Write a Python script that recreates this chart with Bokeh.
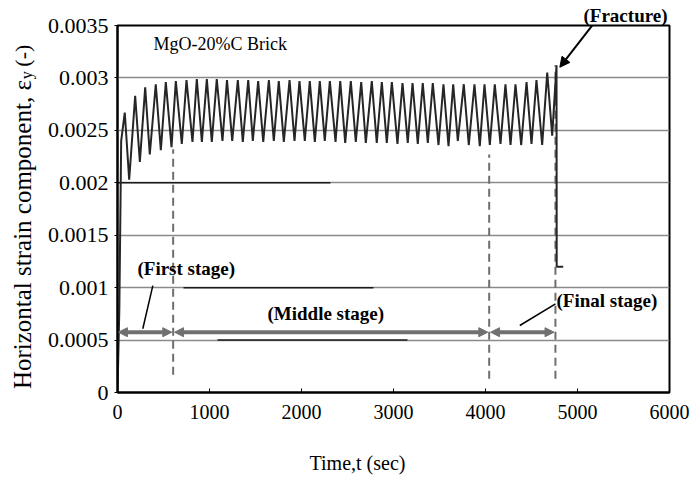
from math import pi
from bokeh.plotting import figure
from bokeh.layouts import row, column
from bokeh.models import Range1d, FixedTicker, Label, Arrow, NormalHead, Title
from bokeh.embed import file_html
from bokeh.resources import INLINE

# ---- data ----
rise_t = [0, 20, 40]
rise_v = [0.0, 0.0008, 0.0024]

peak_t = [79, 192, 301, 416, 525, 634, 750, 862, 971, 1079,
          1190, 1308, 1421, 1529, 1645, 1753, 1870, 1978, 2090, 2199, 2308,
          2421, 2536, 2649, 2764, 2873, 2982, 3098, 3207, 3318, 3427, 3543,
          3649, 3764, 3880, 3989, 4101, 4217, 4326, 4446, 4554, 4671]
peak_v = [0.00267, 0.00283, 0.00291, 0.00294, 0.00296, 0.00297, 0.00298, 0.00299, 0.00299, 0.00299,
          0.00298, 0.00298, 0.00298, 0.00297, 0.00298, 0.00297, 0.00298, 0.00297, 0.00297, 0.00297, 0.00297,
          0.00297, 0.00297, 0.00296, 0.00297, 0.00296, 0.00296, 0.00295, 0.00295, 0.00295, 0.00295, 0.00294,
          0.00294, 0.00294, 0.00294, 0.00294, 0.00294, 0.00294, 0.00294, 0.00296, 0.00298, 0.00305]
trough_t = [127, 243, 351, 471, 587, 699, 815, 917, 1025, 1141,
            1247, 1362, 1471, 1584, 1699, 1808, 1924, 2036, 2145, 2253, 2370,
            2475, 2590, 2699, 2818, 2927, 3043, 3155, 3264, 3373, 3489, 3598,
            3699, 3818, 3938, 4047, 4163, 4272, 4388, 4500, 4616, 4725]
trough_v = [0.00203, 0.00220, 0.00227, 0.00231, 0.00234, 0.00237, 0.00239, 0.00239, 0.00239, 0.00240,
            0.00240, 0.00239, 0.00240, 0.00239, 0.00240, 0.00239, 0.00240, 0.00240, 0.00239, 0.00240, 0.00239,
            0.00238, 0.00239, 0.00238, 0.00238, 0.00238, 0.00237, 0.00238, 0.00237, 0.00238, 0.00236, 0.00235,
            0.00240, 0.00236, 0.00235, 0.00236, 0.00237, 0.00236, 0.00236, 0.00237, 0.00236, 0.00245]
fracture_t = [4772, 4774, 4845]
fracture_v = [0.00312, 0.00120, 0.00120]

stage_bounds = [0, 605, 4040, 4760]          # stage boundaries (sec)
stage_names = ["(First stage)", "(Middle stage)", "(Final stage)"]

y_ticks = [0, 0.0005, 0.001, 0.0015, 0.002, 0.0025, 0.003, 0.0035]
y_tick_labels = ["0", "0.0005", "0.001", "0.0015", "0.002", "0.0025", "0.003", "0.0035"]
x_ticks = [0, 1000, 2000, 3000, 4000, 5000, 6000]

x_title = "Time,t (sec)"
y_title = "Horizontal strain component, \u03b5"
y_title_sub = "y"
y_title_unit = "(-)"
fracture_title = "(Fracture)"
material_title = "MgO-20%C Brick"

# darker stretches of some grid lines
dark_grid_y = [0.002, 0.001, 0.0005]
dark_grid_x0 = [0, 717, 1087]
dark_grid_x1 = [2315, 2783, 3152]

# ---- build curve ----
ct = list(rise_t)
cv = list(rise_v)
for a, b, c, d in zip(peak_t, peak_v, trough_t, trough_v):
    ct += [a, c]
    cv += [b, d]
ct += fracture_t
cv += fracture_v

SERIF = "Liberation Serif"
W, H = 700, 477
BOT_H, LEFT_W = 40, 40
MID_H = H - BOT_H


def strip(w, h, x0, y0):
    """Blank figure used to hold titles; ranges are page pixels."""
    f = figure(width=w, height=h, output_backend="svg", toolbar_location=None, title=None,
               x_range=Range1d(x0, x0 + w), y_range=Range1d(y0 + h, y0),
               x_axis_type=None, y_axis_type=None,
               min_border_left=0, min_border_right=0, min_border_top=0, min_border_bottom=0)
    f.outline_line_color = None
    f.grid.visible = False
    f.background_fill_color = "white"
    f.border_fill_color = "white"
    return f


def lab(fig, text, x, y, size, bold=False, align="left", baseline="middle", angle=0):
    fig.add_layout(Label(x=x, y=y, text=text, text_font=SERIF, text_font_size=size,
                         text_font_style="bold" if bold else "normal", text_color="black",
                         text_align=align, text_baseline=baseline, angle=angle))


p = figure(width=W - LEFT_W, height=MID_H, output_backend="svg", toolbar_location=None, title=None,
           x_range=Range1d(0, 6000), y_range=Range1d(0, 0.0035),
           min_border_left=117 - LEFT_W, min_border_right=31,
           min_border_top=25, min_border_bottom=MID_H - 392)
p.background_fill_color = "white"
p.border_fill_color = "white"
p.outline_line_color = "black"
p.outline_line_width = 2

p.xgrid.grid_line_color = None
p.ygrid.grid_line_color = "#8a8a8a"
p.ygrid.grid_line_width = 1.5
p.ygrid.ticker = FixedTicker(ticks=y_ticks)

p.xaxis.ticker = FixedTicker(ticks=x_ticks)
p.yaxis.ticker = FixedTicker(ticks=y_ticks)
p.yaxis.major_label_overrides = {t: s for t, s in zip(y_ticks, y_tick_labels)}
p.xaxis.major_label_overrides = {t: str(t) for t in x_ticks}
for ax in (p.xaxis, p.yaxis):
    ax.axis_line_color = "black"
    ax.axis_line_width = 2
    ax.major_tick_line_color = "black"
    ax.minor_tick_line_color = None
    ax.major_label_text_font = SERIF
    ax.major_label_text_color = "black"
p.xaxis.major_tick_in = 4
p.xaxis.major_tick_out = 0
p.xaxis.major_label_standoff = 12
p.xaxis.major_label_text_font_size = "20px"
p.yaxis.major_tick_in = 0
p.yaxis.major_tick_out = 3
p.yaxis.major_label_standoff = 6
p.yaxis.major_label_text_font_size = "22px"

# darker grid stretches
p.segment(x0=dark_grid_x0, y0=dark_grid_y, x1=dark_grid_x1, y1=dark_grid_y,
          line_color="#1a1a1a", line_width=1.5)

# stage dashed lines
dash_top = [0.00232, 0.00227, 0.00312]
dash_bot = [0.00017, 0.00013, 0.00013]
p.segment(x0=stage_bounds[1:], y0=dash_bot, x1=stage_bounds[1:], y1=dash_top,
          line_color="#6e6e6e", line_width=2, line_dash="8 5")

# curve
p.line(ct, cv, line_color="#262626", line_width=2)

# stage arrows
arrow_y = 0.000575
for i in range(3):
    x0 = stage_bounds[i] + (15 if i > 0 else 10)
    x1 = stage_bounds[i + 1] - 15
    p.add_layout(Arrow(x_start=x0, y_start=arrow_y, x_end=x1, y_end=arrow_y,
                       line_color="#707070", line_width=4,
                       start=NormalHead(size=9, fill_color="#707070", line_color="#707070"),
                       end=NormalHead(size=9, fill_color="#707070", line_color="#707070")))

# leader lines
p.segment(x0=[384, 4761], y0=[0.00102, 0.000846], x1=[275, 4373], y1=[0.000608, 0.000639],
          line_color="black", line_width=1.5)

# fracture arrow
p.add_layout(Arrow(x_start=5196, y_start=0.003541, x_end=4808, y_end=0.003102,
                   line_color="black", line_width=2,
                   end=NormalHead(size=10, fill_color="black", line_color="black")))

lab(p, material_title, 391, 0.00332, "18px")
lab(p, stage_names[0], 217, 0.001183, "19px", bold=True)
lab(p, stage_names[1], 1630, 0.000753, "19px", bold=True)
lab(p, stage_names[2], 4772, 0.000877, "19px", bold=True)

# (Fracture) above the frame
p.add_layout(Title(text=fracture_title, align="left", offset=466, standoff=0,
                   text_font=SERIF, text_font_size="19px", text_font_style="bold",
                   text_color="black"), "above")

# ---- title strips ----
left = strip(LEFT_W, MID_H, 0, 0)
lab(left, y_title, 22, 65, "25px", align="right", baseline="alphabetic", angle=pi / 2)
lab(left, y_title_sub, 26, 64, "16px", align="left", baseline="alphabetic", angle=pi / 2)
lab(left, y_title_unit, 22, 49, "22px", align="left", baseline="alphabetic", angle=pi / 2)

bottom = strip(W, BOT_H, 0, MID_H)
lab(bottom, x_title, 357, 462, "20px", align="center", baseline="alphabetic")

layout = column(row(left, p, spacing=0), bottom, spacing=0)
open("out.html", "w").write(file_html(layout, INLINE))
